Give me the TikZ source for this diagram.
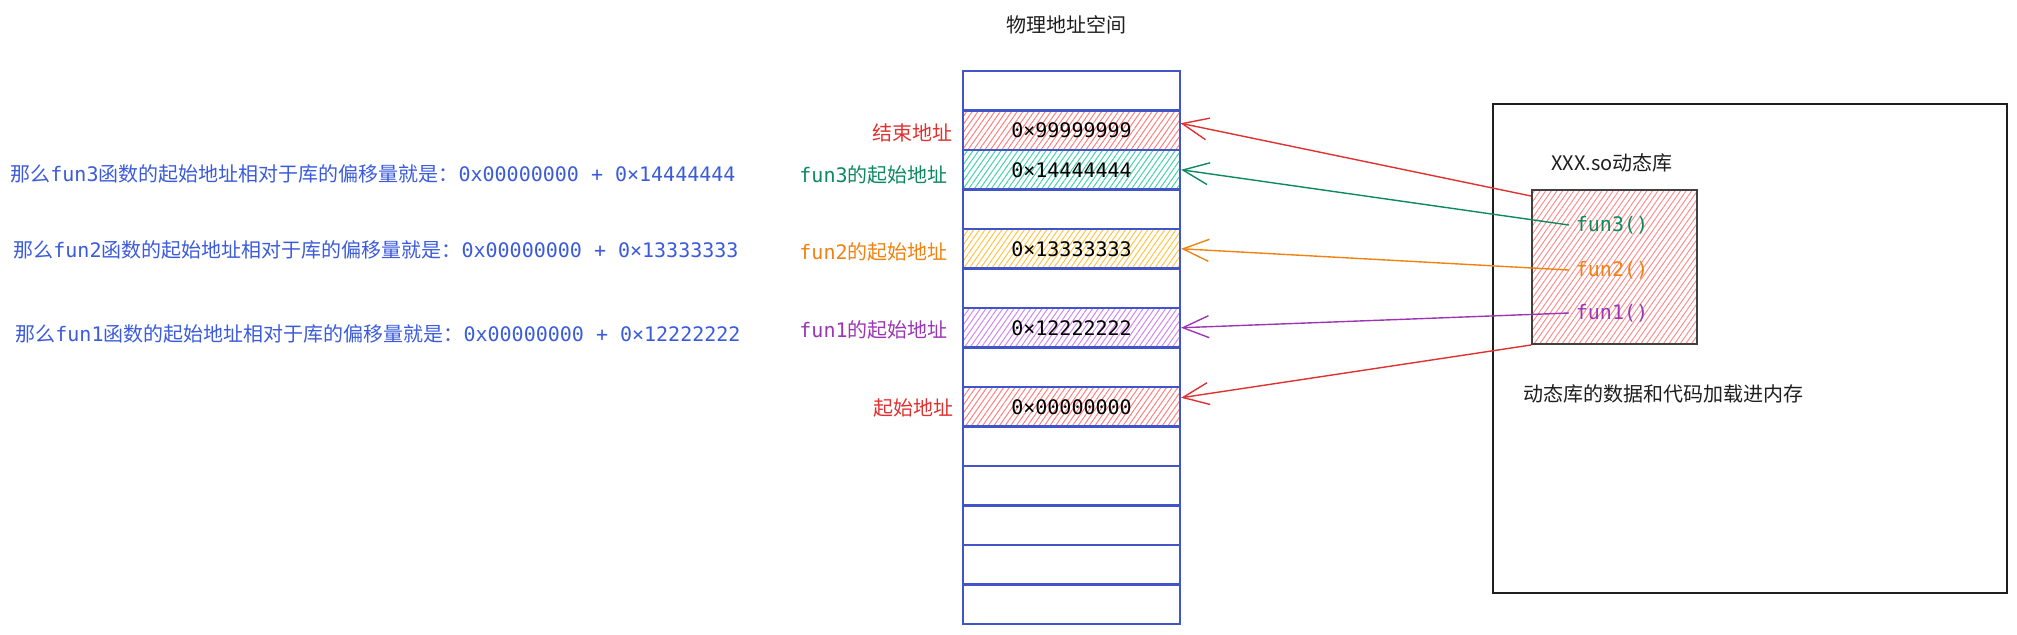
\documentclass[tikz,border=0pt]{standalone}
\usepackage{fontspec}
\setmainfont{Noto Sans CJK SC}
\setmonofont{DejaVu Sans Mono}
\usepackage{tikz}
\usetikzlibrary{arrows.meta,patterns.meta}

\definecolor{memblue}{HTML}{4155C9}
\definecolor{txtblue}{HTML}{3B5BDB}
\definecolor{endred}{HTML}{E03131}
\definecolor{f3green}{HTML}{0C8A5E}
\definecolor{f2orange}{HTML}{EF8210}
\definecolor{f1purple}{HTML}{9C36B5}
\definecolor{inkgray}{HTML}{1E1E1E}
\definecolor{hatchred}{HTML}{FF7F7F}
\definecolor{hatchgreen}{HTML}{45D2A8}
\definecolor{hatchorange}{HTML}{FFC443}
\definecolor{hatchpurple}{HTML}{D186F0}
\definecolor{libred}{HTML}{FF8E8E}

\begin{document}
\begin{tikzpicture}[x=0.5pt, y=-0.5pt,
  cell/.style={draw=memblue, line width=1.1pt, minimum width=108.5pt, minimum height=19.75pt, inner sep=0pt, font=\ttfamily},
  hatch/.style={pattern={Lines[angle=55,distance=2.3pt,line width=0.5pt]}, pattern color=#1},
  tag/.style={anchor=east, inner sep=0pt},
  note/.style={anchor=west, inner sep=0pt, text=txtblue},
  ptr/.style={draw=#1, line width=0.7pt, -{Straight Barb[length=13pt,width=11pt]}}]
\useasboundingbox (0,0) rectangle (2017,634);

% physical address space
\node[text=inkgray] (title) at (1066,25) {物理地址空间};
\node[cell] (c1)  at (1071.5,90.75)  {};
\node[cell, hatch=hatchred]    (c2)  at (1071.5,130.25) {0×99999999};
\node[cell, hatch=hatchgreen]  (c3)  at (1071.5,169.75) {0×14444444};
\node[cell] (c4)  at (1071.5,209.25) {};
\node[cell, hatch=hatchorange] (c5)  at (1071.5,248.75) {0×13333333};
\node[cell] (c6)  at (1071.5,288.25) {};
\node[cell, hatch=hatchpurple] (c7)  at (1071.5,327.75) {0×12222222};
\node[cell] (c8)  at (1071.5,367.25) {};
\node[cell, hatch=hatchred]    (c9)  at (1071.5,406.75) {0×00000000};
\node[cell] (c10) at (1071.5,446.25) {};
\node[cell] (c11) at (1071.5,485.75) {};
\node[cell] (c12) at (1071.5,525.25) {};
\node[cell] (c13) at (1071.5,564.75) {};
\node[cell] (c14) at (1071.5,604.25) {};

\node[tag, text=endred]   (tend)   at (953,133) {结束地址};
\node[tag, text=f3green]  (tfun3)  at (948,175) {\texttt{fun3}的起始地址};
\node[tag, text=f2orange] (tfun2)  at (948,252) {\texttt{fun2}的起始地址};
\node[tag, text=f1purple] (tfun1)  at (948,330) {\texttt{fun1}的起始地址};
\node[tag, text=endred]   (tstart) at (954,408) {起始地址};

% offsets
\node[note] (off3) at (10,174) {那么\texttt{fun3}函数的起始地址相对于库的偏移量就是：\texttt{0x00000000 + 0×14444444}};
\node[note] (off2) at (13,250) {那么\texttt{fun2}函数的起始地址相对于库的偏移量就是：\texttt{0x00000000 + 0×13333333}};
\node[note] (off1) at (15,334) {那么\texttt{fun1}函数的起始地址相对于库的偏移量就是：\texttt{0x00000000 + 0×12222222}};

% loaded library
\node[draw=inkgray, line width=0.8pt, minimum width=257pt, minimum height=244.5pt, inner sep=0pt] (mem) at (1750,348.5) {};
\node[draw=inkgray!85, line width=1pt, hatch=libred, minimum width=82.5pt, minimum height=77pt, inner sep=0pt] (lib) at (1614.5,267) {};
\node[anchor=west, inner sep=0pt, text=inkgray] (libname) at (1551,163) {XXX.so动态库};
\node[font=\ttfamily, text=f3green]  (f3) at (1612,225) {fun3()};
\node[font=\ttfamily, text=f2orange] (f2) at (1612,270) {fun2()};
\node[font=\ttfamily, text=f1purple] (f1) at (1612,313) {fun1()};
\node[anchor=west, inner sep=0pt, text=inkgray] (load) at (1523,394) {动态库的数据和代码加载进内存};

\draw[ptr=endred]   ([yshift=-3.5pt]lib.north west) -- ([yshift=3.5pt]c2.east);
\draw[ptr=f3green]  (f3.west) -- (c3.east);
\draw[ptr=f2orange] (f2.west) -- (c5.east);
\draw[ptr=f1purple] (f1.west) -- (c7.east);
\draw[ptr=endred]   (lib.south west) -- ([yshift=4.5pt]c9.east);
\end{tikzpicture}
\end{document}
